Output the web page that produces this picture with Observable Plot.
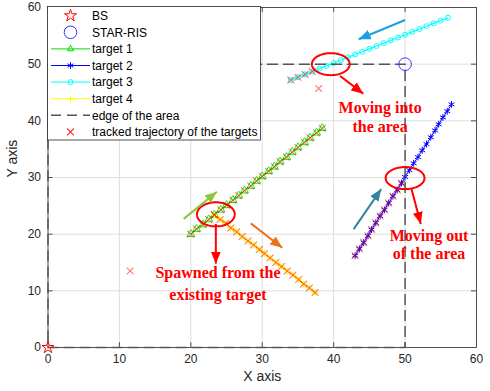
<!DOCTYPE html>
<html><head><meta charset="utf-8">
<script src="https://cdn.jsdelivr.net/npm/d3@7"></script>
<script src="https://cdn.jsdelivr.net/npm/@observablehq/plot@0.6"></script>
<style>
html,body{margin:0;padding:0;background:#fff;}
#chart{width:490px;height:391px;}
</style></head><body><div id="chart"></div>
<script>
// ---- data ----
const ticks = [0, 10, 20, 30, 40, 50, 60];
const bsX = [0], bsY = [0];
const risX = [50], risY = [50];
const edgeX = [0, 50, 50, 0, 0];
const edgeY = [0, 0, 50, 50, 0];

const t1x = [20.0,20.8,21.7,22.5,23.3,24.2,25.0,25.9,26.7,27.5,28.4,29.2,30.0,30.9,31.7,32.5,33.4,34.2,35.0,35.9,36.7,37.6,38.4];
const t1y = [20.0,20.9,21.7,22.6,23.4,24.3,25.1,26.0,26.8,27.7,28.5,29.4,30.2,31.1,31.9,32.8,33.6,34.5,35.3,36.2,37.0,37.9,38.7];
const t2x = [43.0,43.6,44.2,44.8,45.3,45.9,46.5,47.1,47.7,48.3,48.9,49.5,50.0,50.6,51.2,51.8,52.4,53.0,53.6,54.2,54.7,55.3,55.9,56.5];
const t2y = [16.2,17.4,18.5,19.7,20.8,22.0,23.2,24.3,25.5,26.7,27.8,29.0,30.1,31.3,32.5,33.6,34.8,35.9,37.1,38.3,39.4,40.6,41.7,42.9];
const t3x = [34,35,36,37,38,39,40,41,42,43,44,45,46,47,48,49,50,51,52,53,54,55,56];
const t3y = [47.2,47.7,48.2,48.7,49.2,49.7,50.2,50.7,51.2,51.7,52.2,52.7,53.2,53.7,54.2,54.7,55.2,55.7,56.2,56.7,57.2,57.7,58.2];
const t4x = [23.3,24.1,24.9,25.6,26.4,27.2,28.0,28.8,29.6,30.3,31.1,31.9,32.7,33.5,34.3,35.1,35.8,36.6,37.4];
const t4y = [23.4,22.6,21.9,21.1,20.4,19.6,18.8,18.1,17.3,16.6,15.8,15.0,14.3,13.5,12.8,12.0,11.2,10.5,9.7];
// tracked estimates: all of target 1 and 4, first part of target 2 and 3, plus clutter
const trackedT2Count = 12, trackedT3Count = 4;
const clutterX = [11.5, 37.9];
const clutterY = [13.5, 45.7];

// annotations
const ellCx = [39.6, 50.0, 23.5];
const ellCy = [50.0, 29.9, 23.5];
const ellRx = [2.65, 2.72, 2.65];
const ellRy = [1.94, 1.94, 2.12];
const arrX1 = [50.0, 42.8, 19.0, 28.4, 40.9, 50.9, 23.5];
const arrY1 = [57.8, 20.9, 22.7, 21.9, 47.9, 27.95, 21.8];
const arrX2 = [43.5, 46.65, 23.65, 32.8, 44.15, 52.2, 23.5];
const arrY2 = [54.4, 27.95, 27.5, 17.6, 44.8, 21.8, 14.8];
const arrColor = ["#1ba1e2", "#31849b", "#8cc63f", "#e8741c", "#ff0000", "#ff0000", "#ff0000"];
const noteText = ["Moving into", "the area", "Moving out", "of the area", "Spawned from the", "existing target"];
const noteX = [46.5, 46.5, 53.35, 53.35, 23.8, 23.8];
const noteY = [42.3, 38.95, 19.7, 16.5, 13.2, 9.3];

const legendLabels = ["BS", "STAR-RIS", "target 1", "target 2", "target 3", "target 4", "edge of the area", "tracked trajectory of the targets"];
const legendColors = ["#ff0000", "#3333ff", "#00dd00", "#0000ff", "#00ffff", "#ffff00", "#555555", "#ff0000"];
const legendSymbols = ["star", "circle", "triangle", "asterisk", "circle", "plus", null, "times"];
const legendHasLine = [false, false, true, true, true, true, true, false];

// ---- build ----
const zip = (xs, ys) => xs.map((x, i) => ({x, y: ys[i]}));
const t1 = zip(t1x, t1y), t2 = zip(t2x, t2y), t3 = zip(t3x, t3y), t4 = zip(t4x, t4y);
const tracked = [...t1, ...t4, ...t2.slice(0, trackedT2Count), ...t3.slice(0, trackedT3Count), ...zip(clutterX, clutterY)];
const edge = zip(edgeX, edgeY);
const ellipses = ellCx.flatMap((cx, k) => d3.range(0, 361, 5).map(a => ({
  k, x: cx + ellRx[k] * Math.cos(a * Math.PI / 180), y: ellCy[k] + ellRy[k] * Math.sin(a * Math.PI / 180)
})));
const arrows = arrX1.map((x1, i) => ({x1, y1: arrY1[i], x2: arrX2[i], y2: arrY2[i], c: arrColor[i]}));
const notes = noteText.map((t, i) => ({t, x: noteX[i], y: noteY[i]}));

function headMarker(color) {
  const m = d3.create("svg:marker")
    .attr("viewBox", "-12 -5 12 10")
    .attr("markerWidth", 12).attr("markerHeight", 10)
    .attr("markerUnits", "userSpaceOnUse")
    .attr("orient", "auto")
    .attr("refX", 0).attr("refY", 0)
    .attr("fill", color).attr("stroke", "none");
  m.append("path").attr("d", "M0,0L-12,-5L-12,5Z");
  return m.node();
}

const innerTicks = ticks.slice(1, -1);
const axisColor = "#262626";

const chart = Plot.plot({
  width: 490, height: 391,
  marginLeft: 47.5, marginRight: 14, marginTop: 7, marginBottom: 44,
  style: {fontFamily: "'Liberation Sans', Arial, sans-serif", fontSize: "12px", color: axisColor, background: "#fff"},
  x: {domain: [0, 60]},
  y: {domain: [0, 60]},
  marks: [
    Plot.gridX(innerTicks, {stroke: "#dedede", strokeOpacity: 1}),
    Plot.gridY(innerTicks, {stroke: "#dedede", strokeOpacity: 1}),
    Plot.axisX({ticks, tickSize: 0, tickPadding: 7, label: null, fill: axisColor}),
    Plot.axisY({ticks, tickSize: 0, tickPadding: 7, label: null, fill: axisColor}),
    Plot.ruleX(innerTicks, {y1: 0, y2: 0.85, stroke: axisColor, strokeWidth: 0.8}),
    Plot.ruleX(innerTicks, {y1: 60, y2: 59.15, stroke: axisColor, strokeWidth: 0.8}),
    Plot.ruleY(innerTicks, {x1: 0, x2: 0.7, stroke: axisColor, strokeWidth: 0.8}),
    Plot.ruleY(innerTicks, {x1: 60, x2: 59.3, stroke: axisColor, strokeWidth: 0.8}),
    Plot.frame({stroke: axisColor, strokeWidth: 0.8}),
    Plot.text(["X axis"], {frameAnchor: "bottom", dy: 33, fontSize: 14, fill: axisColor}),
    Plot.text(["Y axis"], {frameAnchor: "left", dx: -35, rotate: -90, fontSize: 14, fill: axisColor}),
    // targets
    Plot.line(t1, {x: "x", y: "y", stroke: "#00dd00", strokeWidth: 1}),
    Plot.dot(t1, {x: "x", y: "y", symbol: "triangle", r: 3, stroke: "#00ff00", fill: "none", strokeWidth: 1}),
    Plot.line(t2, {x: "x", y: "y", stroke: "#0000ff", strokeWidth: 1}),
    Plot.dot(t2, {x: "x", y: "y", symbol: "asterisk", r: 3.2, stroke: "#0000ff", strokeWidth: 1}),
    Plot.line(t3, {x: "x", y: "y", stroke: "#00ffff", strokeWidth: 1.2}),
    Plot.dot(t3, {x: "x", y: "y", symbol: "circle", r: 2.5, stroke: "#00ffff", fill: "none", strokeWidth: 1}),
    Plot.line(t4, {x: "x", y: "y", stroke: "#ffff00", strokeWidth: 1}),
    Plot.dot(t4, {x: "x", y: "y", symbol: "plus", r: 2.4, stroke: "#ffff00", strokeWidth: 1.2}),
    // edge
    Plot.line(edge, {x: "x", y: "y", stroke: "#555555", strokeWidth: 1.5, strokeDasharray: "10,6"}),
    // BS and RIS
    Plot.dot(zip(bsX, bsY), {x: "x", y: "y", symbol: "star", r: 3.8, stroke: "#ff0000", fill: "none", strokeWidth: 1}),
    Plot.dot(zip(risX, risY), {x: "x", y: "y", symbol: "circle", r: 6.3, stroke: "#3333ff", fill: "none", strokeWidth: 1}),
    // tracked
    Plot.dot(tracked, {x: "x", y: "y", symbol: "times", r: 3.2, stroke: "#ff0000", strokeOpacity: 0.55, strokeWidth: 1.1}),
    // annotations
    Plot.line(ellipses, {x: "x", y: "y", z: "k", stroke: "#ff0000", strokeWidth: 2}),
    Plot.link(arrows, {x1: "x1", y1: "y1", x2: "x2", y2: "y2", stroke: "c", strokeWidth: 2, markerEnd: headMarker}),
    Plot.text(notes, {x: "x", y: "y", text: "t", fill: "#ff0000", fontFamily: "'Liberation Serif', 'Times New Roman', serif", fontWeight: "bold", fontSize: 16})
  ]
});
document.getElementById("chart").appendChild(chart);

// ---- legend (inside axes, top-left) ----
const svg = d3.select(chart);
const lg = svg.append("g").attr("font-family", "'Liberation Sans', Arial, sans-serif").attr("font-size", 12)
  .attr("fill", "#000").attr("text-anchor", "start");
lg.append("rect").attr("x", 47.5).attr("y", 6.5).attr("width", 213).attr("height", 133.5)
  .attr("fill", "#fff").attr("stroke", "#262626").attr("stroke-width", 0.8);
const symMap = {star: d3.symbolStar, circle: d3.symbolCircle, triangle: d3.symbolTriangle2, asterisk: d3.symbolAsterisk, plus: d3.symbolPlus, times: d3.symbolTimes};
const symR = {star: 3.8, circle: 2.5, triangle: 3, asterisk: 3.2, plus: 2.4, times: 3.2};
legendLabels.forEach((lab, i) => {
  const y = 15.7 + i * 16.6;
  const c = legendColors[i];
  if (legendHasLine[i]) {
    lg.append("line").attr("x1", 51).attr("x2", 90).attr("y1", y).attr("y2", y)
      .attr("stroke", c).attr("stroke-width", legendSymbols[i] ? 1 : 1.5)
      .attr("stroke-dasharray", legendSymbols[i] ? null : "10,6");
  }
  const s = legendSymbols[i];
  if (s) {
    let r = symR[s];
    if (i === 1) r = 6.3;
    lg.append("path").attr("d", d3.symbol(symMap[s], Math.PI * r * r)())
      .attr("transform", `translate(70.5,${y})`)
      .attr("fill", "none").attr("stroke", c).attr("stroke-width", s === "times" ? 1.2 : 1)
      .attr("stroke-opacity", s === "times" ? 0.8 : 1);
  }
  lg.append("text").attr("x", 92).attr("y", y).attr("dy", "0.35em").attr("text-anchor", "start").text(lab);
});
</script>
</body></html>
